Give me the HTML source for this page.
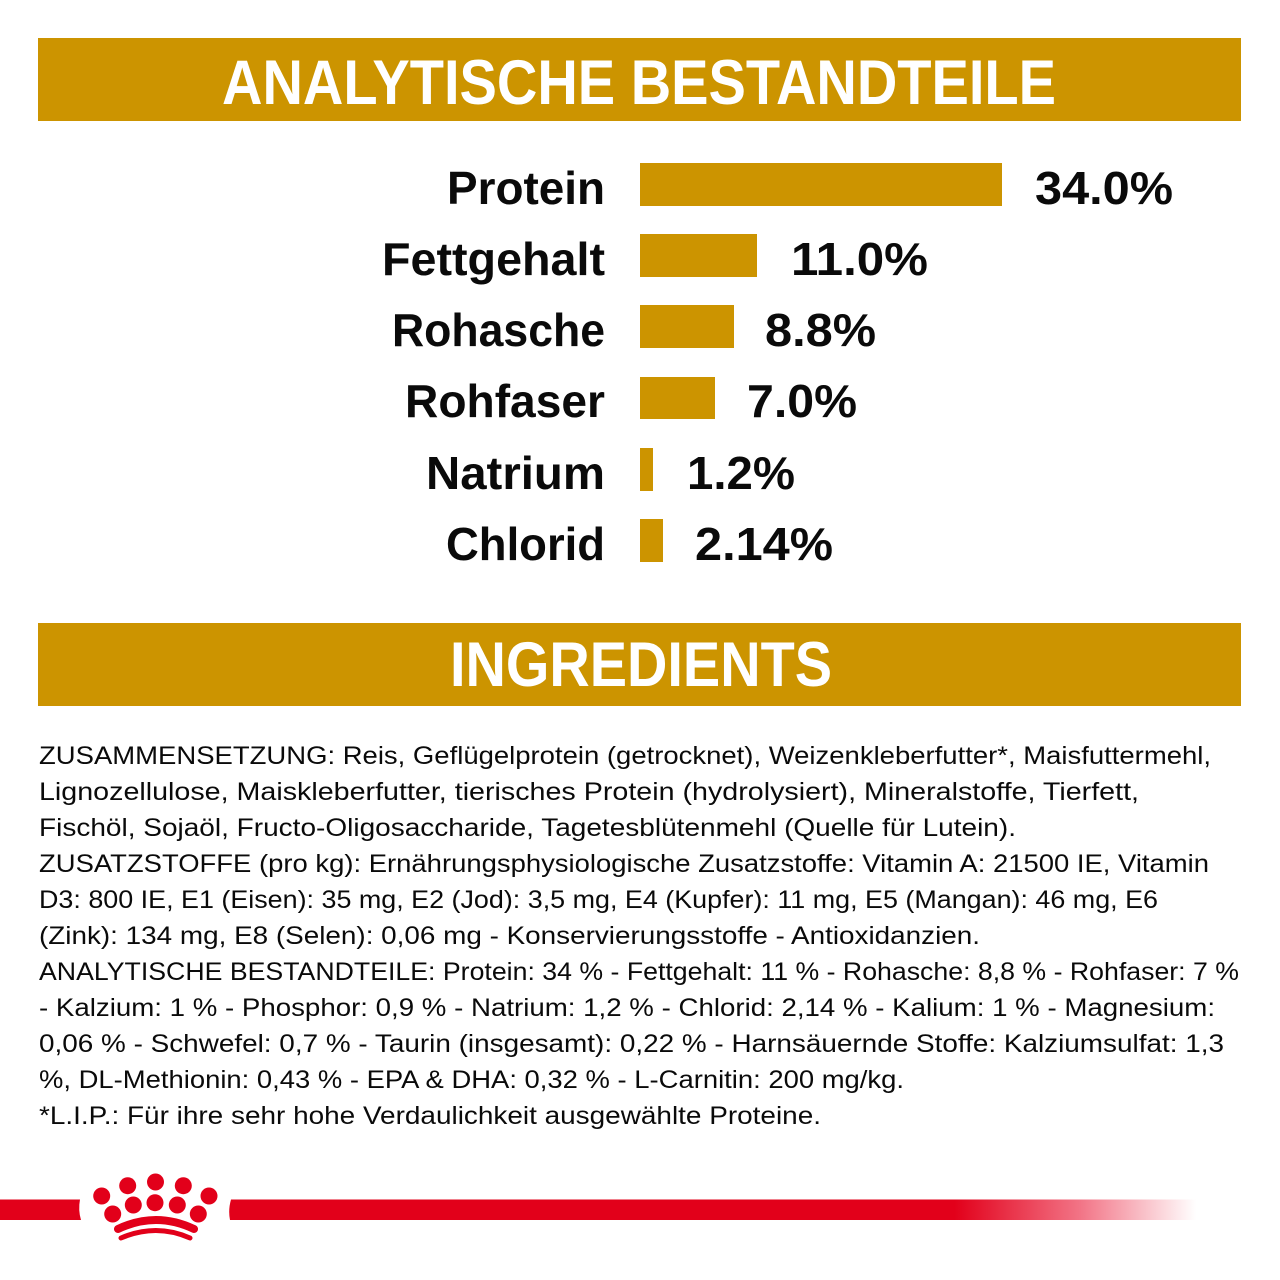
<!DOCTYPE html>
<html>
<head>
<meta charset="utf-8">
<style>
  html,body{margin:0;padding:0;background:#fff;}
  svg{display:block;}
  .h{font-family:"Liberation Sans",sans-serif;font-weight:bold;fill:#fff;font-size:63px;}
  .l{font-family:"Liberation Sans",sans-serif;font-weight:bold;fill:#0a0a0a;font-size:46px;}
  .t{font-family:"Liberation Sans",sans-serif;fill:#0a0a0a;font-size:25px;}
</style>
</head>
<body>
<svg width="1280" height="1280" viewBox="0 0 1280 1280" xmlns="http://www.w3.org/2000/svg">
  <rect x="0" y="0" width="1280" height="1280" fill="#fff"/>
  <!-- Header 1 -->
  <rect x="38" y="38" width="1203" height="83" fill="#CC9400"/>
  <text class="h" x="222" y="104" textLength="834" lengthAdjust="spacingAndGlyphs">ANALYTISCHE BESTANDTEILE</text>

  <!-- Bars -->
  <g fill="#CC9400">
    <rect x="640" y="163" width="362" height="43"/>
    <rect x="640" y="234" width="117" height="43"/>
    <rect x="640" y="305" width="94" height="43"/>
    <rect x="640" y="377" width="75" height="42"/>
    <rect x="640" y="448" width="13" height="43"/>
    <rect x="640" y="519" width="23" height="43"/>
  </g>
  <text class="l" x="447" y="204" textLength="158" lengthAdjust="spacingAndGlyphs">Protein</text>
  <text class="l" x="382" y="275" textLength="223" lengthAdjust="spacingAndGlyphs">Fettgehalt</text>
  <text class="l" x="392" y="346" textLength="213" lengthAdjust="spacingAndGlyphs">Rohasche</text>
  <text class="l" x="405" y="417" textLength="200" lengthAdjust="spacingAndGlyphs">Rohfaser</text>
  <text class="l" x="426" y="489" textLength="179" lengthAdjust="spacingAndGlyphs">Natrium</text>
  <text class="l" x="446" y="560" textLength="159" lengthAdjust="spacingAndGlyphs">Chlorid</text>

  <text class="l" x="1035" y="204" textLength="138" lengthAdjust="spacingAndGlyphs">34.0%</text>
  <text class="l" x="791" y="275" textLength="137" lengthAdjust="spacingAndGlyphs">11.0%</text>
  <text class="l" x="765" y="346" textLength="111" lengthAdjust="spacingAndGlyphs">8.8%</text>
  <text class="l" x="747" y="417" textLength="110" lengthAdjust="spacingAndGlyphs">7.0%</text>
  <text class="l" x="687" y="489" textLength="108" lengthAdjust="spacingAndGlyphs">1.2%</text>
  <text class="l" x="695" y="560" textLength="138" lengthAdjust="spacingAndGlyphs">2.14%</text>

  <!-- Header 2 -->
  <rect x="38" y="623" width="1203" height="83" fill="#CC9400"/>
  <text class="h" x="450" y="686" textLength="382" lengthAdjust="spacingAndGlyphs">INGREDIENTS</text>

  <!-- Ingredients text -->
  <text class="t" x="39" y="764" textLength="1172" lengthAdjust="spacingAndGlyphs">ZUSAMMENSETZUNG: Reis, Geflügelprotein (getrocknet), Weizenkleberfutter*, Maisfuttermehl,</text>
  <text class="t" x="39" y="800" textLength="1100" lengthAdjust="spacingAndGlyphs">Lignozellulose, Maiskleberfutter, tierisches Protein (hydrolysiert), Mineralstoffe, Tierfett,</text>
  <text class="t" x="39" y="836" textLength="977" lengthAdjust="spacingAndGlyphs">Fischöl, Sojaöl, Fructo-Oligosaccharide, Tagetesblütenmehl (Quelle für Lutein).</text>
  <text class="t" x="39" y="872" textLength="1170" lengthAdjust="spacingAndGlyphs">ZUSATZSTOFFE (pro kg): Ernährungsphysiologische Zusatzstoffe: Vitamin A: 21500 IE, Vitamin</text>
  <text class="t" x="39" y="908" textLength="1119" lengthAdjust="spacingAndGlyphs">D3: 800 IE, E1 (Eisen): 35 mg, E2 (Jod): 3,5 mg, E4 (Kupfer): 11 mg, E5 (Mangan): 46 mg, E6</text>
  <text class="t" x="39" y="944" textLength="941" lengthAdjust="spacingAndGlyphs">(Zink): 134 mg, E8 (Selen): 0,06 mg - Konservierungsstoffe - Antioxidanzien.</text>
  <text class="t" x="39" y="980" textLength="1200" lengthAdjust="spacingAndGlyphs">ANALYTISCHE BESTANDTEILE: Protein: 34 % - Fettgehalt: 11 % - Rohasche: 8,8 % - Rohfaser: 7 %</text>
  <text class="t" x="39" y="1016" textLength="1176" lengthAdjust="spacingAndGlyphs">- Kalzium: 1 % - Phosphor: 0,9 % - Natrium: 1,2 % - Chlorid: 2,14 % - Kalium: 1 % - Magnesium:</text>
  <text class="t" x="39" y="1052" textLength="1185" lengthAdjust="spacingAndGlyphs">0,06 % - Schwefel: 0,7 % - Taurin (insgesamt): 0,22 % - Harnsäuernde Stoffe: Kalziumsulfat: 1,3</text>
  <text class="t" x="39" y="1088" textLength="865" lengthAdjust="spacingAndGlyphs">%, DL-Methionin: 0,43 % - EPA &amp; DHA: 0,32 % - L-Carnitin: 200 mg/kg.</text>
  <text class="t" x="39" y="1124" textLength="782" lengthAdjust="spacingAndGlyphs">*L.I.P.: Für ihre sehr hohe Verdaulichkeit ausgewählte Proteine.</text>

  <!-- Red line -->
  <defs>
    <linearGradient id="rg" x1="230" y1="0" x2="1196" y2="0" gradientUnits="userSpaceOnUse">
      <stop offset="0" stop-color="#E2001A"/>
      <stop offset="0.75" stop-color="#E2001A"/>
      <stop offset="0.88" stop-color="#F27486"/>
      <stop offset="1" stop-color="#FFFFFF"/>
    </linearGradient>
  </defs>
  <path d="M0 1199.5 L80 1199.5 Q78 1210 81 1220 L0 1220 Z" fill="#E2001A"/>
  <path d="M231 1199.5 L1196 1199.5 L1196 1220 L230 1220 Q228 1210 231 1199.5 Z" fill="url(#rg)"/>

  <!-- Crown -->
  <g fill="#E2001A">
    <circle cx="155.5" cy="1182" r="8.5"/>
    <circle cx="127.7" cy="1185.7" r="8.5"/>
    <circle cx="183.3" cy="1185.7" r="8.5"/>
    <circle cx="101.7" cy="1196" r="8.5"/>
    <circle cx="209" cy="1196" r="8.5"/>
    <circle cx="133.3" cy="1205" r="8.5"/>
    <circle cx="155" cy="1202.7" r="8.5"/>
    <circle cx="177.3" cy="1205" r="8.5"/>
    <circle cx="112.7" cy="1214" r="8.5"/>
    <circle cx="198.3" cy="1214" r="8.5"/>
  </g>
  <path d="M118 1229 Q156 1211 194 1229" fill="none" stroke="#E2001A" stroke-width="8" stroke-linecap="round"/>
  <path d="M121 1238 Q156 1223 190 1238" fill="none" stroke="#E2001A" stroke-width="5" stroke-linecap="round"/>
</svg>
</body>
</html>
